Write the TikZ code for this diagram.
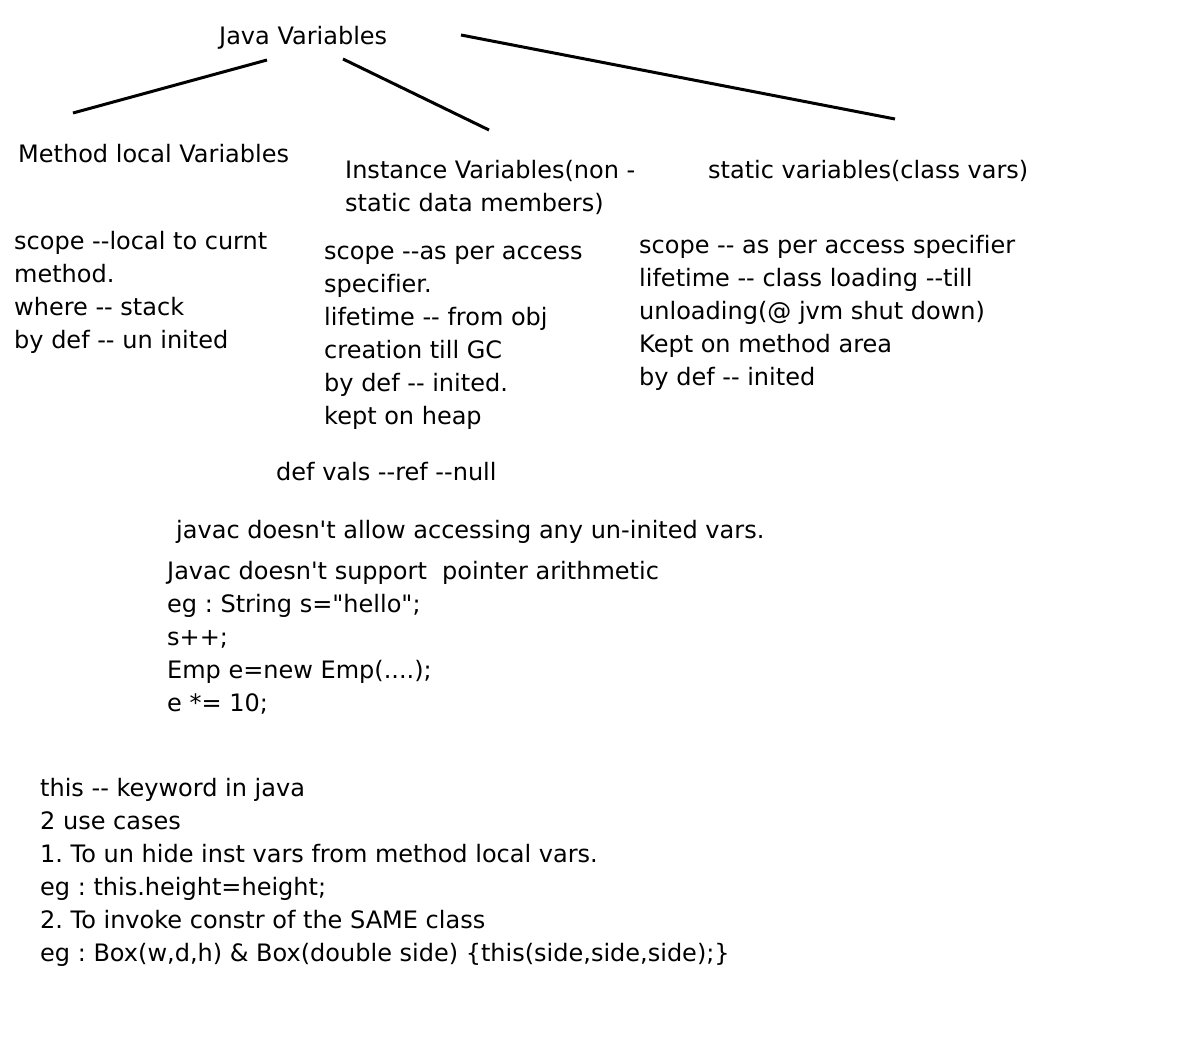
\documentclass[tikz,border=0pt]{standalone}
\usepackage{fontspec}
\setmainfont{DejaVu Sans}[Ligatures={TeXOff,NoCommon}]
\frenchspacing
\usetikzlibrary{positioning}
\tikzset{
  note/.style={anchor=base west, align=left, inner sep=0pt,
    font=\fontsize{24}{33}\selectfont},
  branch/.style={line width=3pt}
}

\begin{document}
\begin{tikzpicture}[x=1pt,y=-1pt]
	\useasboundingbox[fill=white] (0,0) rectangle (1195,1037);

	% root
	\node[note] (jv) at (219,44) {Java Variables};

	% the three kinds (multi-line nodes sit on their last baseline)
	\node[note] (mlv) at (18,162) {Method local Variables};
	\node[note] (inst) at (345,211) {Instance Variables(non -\\static data members)};
	\node[note] (stat) at (708,178) {static variables(class vars)};

	% branch ends
	\coordinate (jvL) at (267,60);
	\coordinate (jvM) at (343,59);
	\coordinate (jvR) at (461,35);
	\coordinate (mlvT) at (73,113);
	\coordinate (instT) at (489,130);
	\coordinate (statT) at (895,119);
	\draw[branch] (jvL) -- (mlvT);
	\draw[branch] (jvM) -- (instT);
	\draw[branch] (jvR) -- (statT);

	% notes under each kind
	\node[note] (mlvN) at (14,348) {scope --local to curnt\\method.\\where -- stack\\by def -- un inited};
	\node[note] (instN) at (324,424) {scope --as per access\\specifier.\\lifetime -- from obj\\creation till GC\\by def -- inited.\\kept on heap};
	\node[note] (statN) at (639,385) {scope -- as per access specifier\\lifetime -- class loading --till\\unloading(@ jvm shut down)\\Kept on method area\\by def -- inited};

	% general remarks
	\node[note] (defv) at (276,480) {def vals --ref --null};
	\node[note] (javac) at (176,538) {javac doesn't allow accessing any un-inited vars.};
	\node[note] (ptr) at (167,711) {Javac doesn't support\ \ pointer arithmetic\\eg : String s="hello";\\s++;\\Emp e=new Emp(....);\\e *= 10;};

	% this keyword
	\node[note] (this) at (40,961) {this -- keyword in java\\2 use cases\\1. To un hide inst vars from method local vars.\\eg : this.height=height;\\2. To invoke constr of the SAME class\\eg : Box(w,d,h) \& Box(double side) \{this(side,side,side);\}};
\end{tikzpicture}
\end{document}
